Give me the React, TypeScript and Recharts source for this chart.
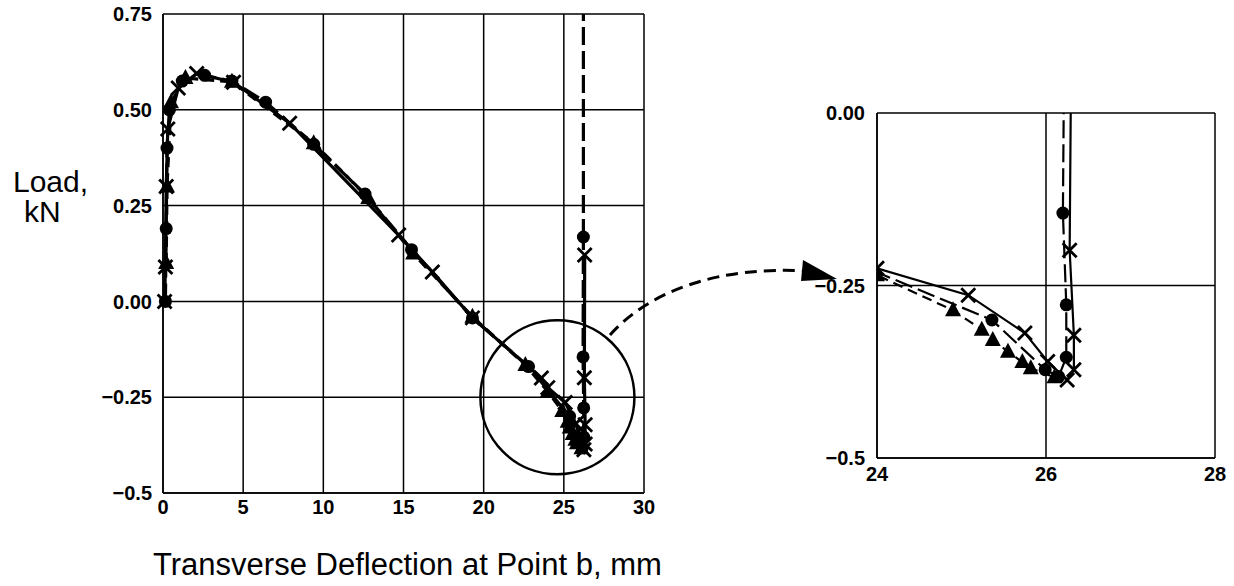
import React from 'react';
import { ScatterChart, Scatter, XAxis, YAxis, CartesianGrid, ReferenceDot } from 'recharts';

// load (kN) vs transverse deflection at point b (mm)
const circlePoints = [
  { x: 0.15, y: 0.0 }, { x: 0.2, y: 0.19 }, { x: 0.25, y: 0.4 }, { x: 0.4, y: 0.5 },
  { x: 1.2, y: 0.575 }, { x: 2.6, y: 0.59 }, { x: 4.3, y: 0.575 }, { x: 6.4, y: 0.52 },
  { x: 9.4, y: 0.41 }, { x: 12.6, y: 0.28 }, { x: 15.5, y: 0.135 }, { x: 19.3, y: -0.043 },
  { x: 22.8, y: -0.17 }, { x: 25.36, y: -0.3 }, { x: 25.99, y: -0.372 }, { x: 26.15, y: -0.382 },
  { x: 26.24, y: -0.354 }, { x: 26.24, y: -0.278 }, { x: 26.2, y: -0.145 }, { x: 26.22, y: 0.168 },
];
// the dashed circle curve runs on past the last point, off the top of the plot
const circleTail = [{ x: 26.22, y: 0.168 }, { x: 26.22, y: 0.75 }];

const trianglePoints = [
  { x: 0.2, y: 0.1 }, { x: 0.25, y: 0.3 }, { x: 0.5, y: 0.52 }, { x: 1.4, y: 0.583 },
  { x: 4.3, y: 0.573 }, { x: 9.4, y: 0.413 }, { x: 12.8, y: 0.27 }, { x: 15.6, y: 0.125 },
  { x: 19.3, y: -0.04 }, { x: 22.6, y: -0.166 }, { x: 24.0, y: -0.235 }, { x: 24.9, y: -0.286 },
  { x: 25.24, y: -0.314 }, { x: 25.37, y: -0.329 }, { x: 25.55, y: -0.346 }, { x: 25.72, y: -0.361 },
  { x: 25.82, y: -0.37 }, { x: 26.1, y: -0.383 },
];

const crossPoints = [
  { x: 0.1, y: 0.0 }, { x: 0.15, y: 0.09 }, { x: 0.2, y: 0.3 }, { x: 0.3, y: 0.45 },
  { x: 0.95, y: 0.557 }, { x: 2.1, y: 0.595 }, { x: 4.4, y: 0.572 }, { x: 7.9, y: 0.465 },
  { x: 14.7, y: 0.173 }, { x: 16.8, y: 0.077 }, { x: 19.3, y: -0.043 }, { x: 23.6, y: -0.2 },
  { x: 24.0, y: -0.225 }, { x: 25.08, y: -0.264 }, { x: 25.75, y: -0.319 }, { x: 26.02, y: -0.36 },
  { x: 26.25, y: -0.387 }, { x: 26.33, y: -0.372 }, { x: 26.33, y: -0.322 }, { x: 26.28, y: -0.199 },
  { x: 26.3, y: 0.121 },
];

const mainXTicks = [0, 5, 10, 15, 20, 25, 30];
const mainYTicks = [-0.5, -0.25, 0, 0.25, 0.5, 0.75];
const mainYLabels = ['−0.5', '−0.25', '0.00', '0.25', '0.50', '0.75'];
const insetXTicks = [24, 26, 28];
const insetYTicks = [-0.5, -0.25, 0];
const insetYLabels = ['−0.5', '−0.25', '0.00'];

const font = '"Liberation Sans", Arial, sans-serif';
const tickStyle = { fill: '#000', fontSize: 20, fontWeight: 700, fontFamily: font };

const CircleMark = (p: any) => <circle cx={p.cx} cy={p.cy} r={6.5} fill="#000" />;
const TriangleMark = (p: any) => (
  <polygon points={`${p.cx},${p.cy - 9} ${p.cx - 8},${p.cy + 6} ${p.cx + 8},${p.cy + 6}`} fill="#000" />
);
const CrossMark = (p: any) => (
  <path
    d={`M${p.cx - 7},${p.cy - 7}L${p.cx + 7},${p.cy + 7}M${p.cx - 7},${p.cy + 7}L${p.cx + 7},${p.cy - 7}`}
    stroke="#000"
    strokeWidth={2.8}
  />
);
const NoMark = () => <g />;

const series = (w: number) => [
  <Scatter key="x" data={crossPoints} shape={CrossMark} isAnimationActive={false}
    line={{ stroke: '#000', strokeWidth: w }} lineJointType="linear" />,
  <Scatter key="ct" data={circleTail} shape={NoMark} isAnimationActive={false}
    line={{ stroke: '#000', strokeWidth: w, strokeDasharray: '18 6' }} lineJointType="linear" />,
  <Scatter key="c" data={circlePoints} shape={CircleMark} isAnimationActive={false}
    line={{ stroke: '#000', strokeWidth: w, strokeDasharray: '18 6' }} lineJointType="linear" />,
  <Scatter key="t" data={trianglePoints} shape={TriangleMark} isAnimationActive={false}
    line={{ stroke: '#000', strokeWidth: w, strokeDasharray: '10 6' }} lineJointType="linear" />,
];

const labelOf = (ticks: number[], labels: string[]) => (v: number) => labels[ticks.indexOf(v)] ?? String(v);

export default function App() {
  return (
    <div style={{ position: 'absolute', left: 0, top: 0, width: 1234, height: 586, background: '#fff', fontFamily: font }}>
      <div style={{ position: 'absolute', left: 0, top: 0 }}>
        <ScatterChart width={700} height={586} margin={{ top: 14, left: 103, right: 56, bottom: 63 }}>
          <CartesianGrid stroke="#000" strokeWidth={1.5} />
          <XAxis type="number" dataKey="x" domain={[0, 30]} ticks={mainXTicks} interval={0}
            tickLine={false} tickSize={0} tickMargin={7} height={30}
            axisLine={{ stroke: '#000', strokeWidth: 1.5 }} tick={tickStyle} />
          <YAxis type="number" dataKey="y" domain={[-0.5, 0.75]} ticks={mainYTicks} interval={0}
            tickLine={false} tickSize={0} tickMargin={11} width={60}
            axisLine={{ stroke: '#000', strokeWidth: 1.5 }} tick={tickStyle}
            tickFormatter={labelOf(mainYTicks, mainYLabels)} />
          <ReferenceDot x={24.6} y={-0.25} r={77} fill="none" stroke="#000" strokeWidth={2.5} />
          {series(3.2)}
        </ScatterChart>
      </div>

      <div style={{ position: 'absolute', left: 780, top: 80 }}>
        <ScatterChart width={460} height={440} margin={{ top: 33, left: 37, right: 25, bottom: 32 }}>
          <CartesianGrid stroke="#000" strokeWidth={1.5} />
          <XAxis type="number" dataKey="x" domain={[24, 28]} ticks={insetXTicks} interval={0}
            allowDataOverflow tickLine={false} tickSize={0} tickMargin={9} height={30}
            axisLine={{ stroke: '#000', strokeWidth: 1.5 }} tick={tickStyle} />
          <YAxis type="number" dataKey="y" domain={[-0.5, 0]} ticks={insetYTicks} interval={0}
            allowDataOverflow tickLine={false} tickSize={0} tickMargin={12} width={60}
            axisLine={{ stroke: '#000', strokeWidth: 1.5 }} tick={tickStyle}
            tickFormatter={labelOf(insetYTicks, insetYLabels)} />
          {series(2.2)}
        </ScatterChart>
      </div>

      <svg width={1234} height={586} style={{ position: 'absolute', left: 0, top: 0, pointerEvents: 'none' }}>
        <path d="M 610 335 C 650 290, 720 266, 806 271" fill="none" stroke="#000" strokeWidth={3} strokeDasharray="12 7" />
        <polygon points="837,279 803,260 801,281" fill="#000" />
        <text x={13} y={192} fontSize={30} fontFamily={font} fill="#000">Load,</text>
        <text x={24} y={222} fontSize={30} fontFamily={font} fill="#000">kN</text>
        <text x={153} y={575} fontSize={31} fontFamily={font} fill="#000">Transverse Deflection at Point b, mm</text>
      </svg>
    </div>
  );
}
